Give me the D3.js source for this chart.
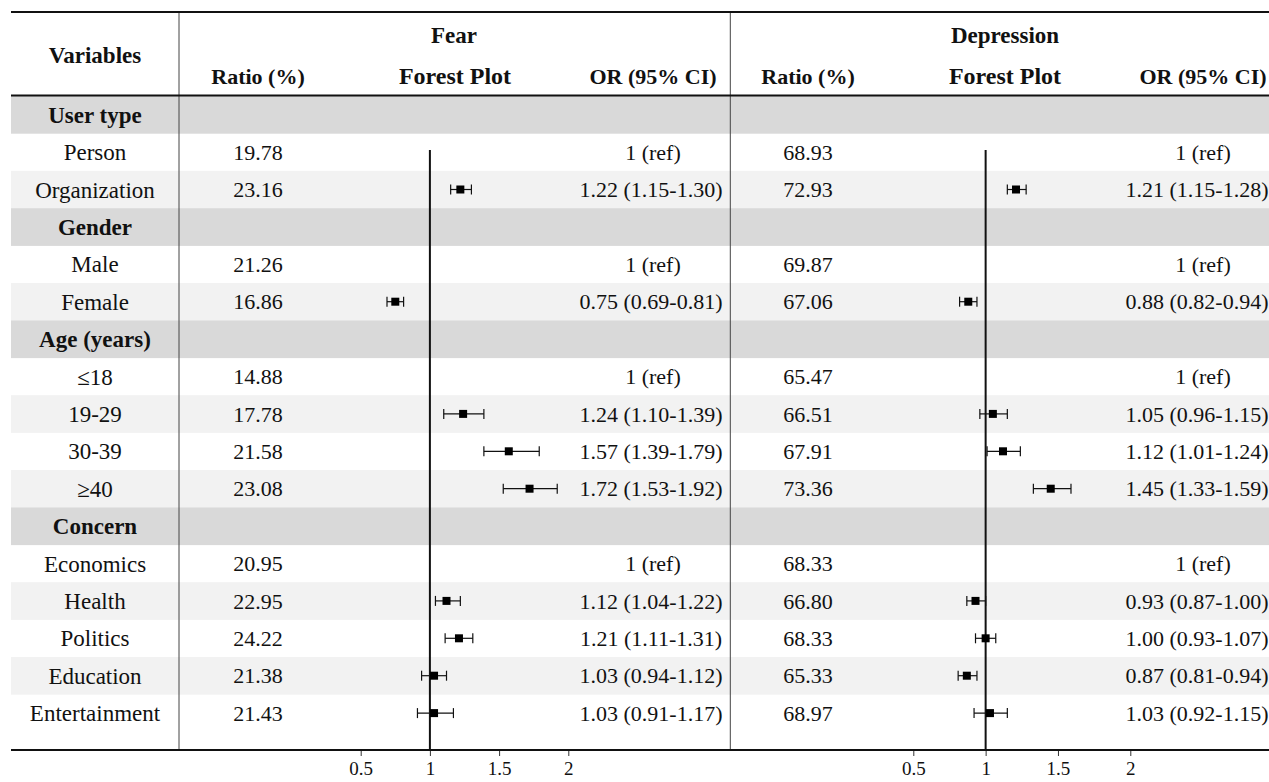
<!DOCTYPE html>
<html><head><meta charset="utf-8">
<script src="https://cdn.jsdelivr.net/npm/d3@7"></script>
<style>body{margin:0;background:#fff}svg{display:block}text{font-family:"Liberation Serif","Times New Roman",serif;fill:#111}</style>
</head><body>
<svg id="c" width="1269" height="782"></svg>
<script>
const variables = ["User type","Person","Organization","Gender","Male","Female","Age (years)","≤18","19-29","30-39","≥40","Concern","Economics","Health","Politics","Education","Entertainment"];
const isGroup = [1,0,0,1,0,0,1,0,0,0,0,1,0,0,0,0,0];
const fearRatio = [null,19.78,23.16,null,21.26,16.86,null,14.88,17.78,21.58,23.08,null,20.95,22.95,24.22,21.38,21.43];
const fearOR   = [null,null,1.22,null,null,0.75,null,null,1.24,1.57,1.72,null,null,1.12,1.21,1.03,1.03];
const fearLow  = [null,null,1.15,null,null,0.69,null,null,1.10,1.39,1.53,null,null,1.04,1.11,0.94,0.91];
const fearHigh = [null,null,1.30,null,null,0.81,null,null,1.39,1.79,1.92,null,null,1.22,1.31,1.12,1.17];
const depRatio = [null,68.93,72.93,null,69.87,67.06,null,65.47,66.51,67.91,73.36,null,68.33,66.80,68.33,65.33,68.97];
const depOR    = [null,null,1.21,null,null,0.88,null,null,1.05,1.12,1.45,null,null,0.93,1.00,0.87,1.03];
const depLow   = [null,null,1.15,null,null,0.82,null,null,0.96,1.01,1.33,null,null,0.87,0.93,0.81,0.92];
const depHigh  = [null,null,1.28,null,null,0.94,null,null,1.15,1.24,1.59,null,null,1.00,1.07,0.94,1.15];
const refRows  = [1,4,7,12];
const axisTicks = [0.5,1,1.5,2];
const fmt = d3.format(".2f");

const svg = d3.select("#c");
const L = 11, R = 1269, topY = 12, headBottom = 95.5, bottomY = 750;
const y = d3.scaleBand().domain(d3.range(variables.length)).range([96, 96 + 37.4*variables.length]);

const panels = [
  {title:"Fear", ratio:fearRatio, or:fearOR, lo:fearLow, hi:fearHigh, cx:{ratio:258, plot:455, or:651, orh:653, title:454},
   x:d3.scaleLinear().domain([0.5,2]).range([360.7,568.3])},
  {title:"Depression", ratio:depRatio, or:depOR, lo:depLow, hi:depHigh, cx:{ratio:808, plot:1005, or:1197, orh:1203, title:1005},
   x:d3.scaleLinear().domain([0.5,2]).range([913.3,1130.3])}
];

// row backgrounds
let stripe = 0;
variables.forEach((v,i)=>{
  let fill = null;
  if (isGroup[i]) { fill = "#d9d9d9"; stripe = 0; }
  else { if (stripe % 2 === 1) fill = "#f2f2f2"; stripe++; }
  if (fill) svg.append("rect").attr("x",L).attr("y",y(i)).attr("width",R-L).attr("height",y.bandwidth()+0.3).attr("fill",fill);
});

// headers
const hdr = svg.append("g").attr("font-size",22).attr("text-anchor","middle").style("font-weight","bold");
hdr.append("text").attr("x",95).attr("y",55).attr("dy","0.35em").attr("font-size",23).text("Variables");
panels.forEach(p=>{
  hdr.append("text").attr("x",p.cx.title).attr("y",35).attr("dy","0.35em").attr("font-size",23).text(p.title);
  hdr.append("text").attr("x",p.cx.ratio).attr("y",76).attr("dy","0.35em").text("Ratio (%)");
  hdr.append("text").attr("x",p.cx.plot).attr("y",76).attr("dy","0.35em").attr("font-size",24).text("Forest Plot");
  hdr.append("text").attr("x",p.cx.orh).attr("y",76).attr("dy","0.35em").text("OR (95% CI)");
});

// variable labels
const body = svg.append("g").attr("font-size",22).attr("text-anchor","middle");
variables.forEach((v,i)=>{
  body.append("text").attr("x",95).attr("y",y(i)+y.bandwidth()/2).attr("dy","0.35em")
    .attr("font-size",23).style("font-weight",isGroup[i]?"bold":"normal").text(v);
});

panels.forEach(p=>{
  variables.forEach((v,i)=>{
    const cy = y(i)+y.bandwidth()/2;
    if (p.ratio[i]!=null) body.append("text").attr("x",p.cx.ratio).attr("y",cy).attr("dy","0.35em").text(fmt(p.ratio[i]));
    if (refRows.includes(i)) body.append("text").attr("x",p.cx.orh).attr("y",cy).attr("dy","0.35em").text("1 (ref)");
    if (p.or[i]!=null) body.append("text").attr("x",p.cx.or).attr("y",cy).attr("dy","0.35em")
      .text(`${fmt(p.or[i])} (${fmt(p.lo[i])}-${fmt(p.hi[i])})`);
  });
  // reference line
  svg.append("line").attr("x1",p.x(1)).attr("x2",p.x(1)).attr("y1",150).attr("y2",bottomY)
    .attr("stroke","#111").attr("stroke-width",2);
  // CIs
  const g = svg.append("g").attr("stroke","#111").attr("stroke-width",1.2);
  variables.forEach((v,i)=>{
    if (p.or[i]==null) return;
    const cy = y(i)+y.bandwidth()/2;
    g.append("line").attr("x1",p.x(p.lo[i])).attr("x2",p.x(p.hi[i])).attr("y1",cy).attr("y2",cy);
    g.append("line").attr("x1",p.x(p.lo[i])).attr("x2",p.x(p.lo[i])).attr("y1",cy-5).attr("y2",cy+5);
    g.append("line").attr("x1",p.x(p.hi[i])).attr("x2",p.x(p.hi[i])).attr("y1",cy-5).attr("y2",cy+5);
    svg.append("rect").attr("x",p.x(p.or[i])-4).attr("y",cy-4).attr("width",8).attr("height",8).attr("fill","#000");
  });
  // axis
  const ax = svg.append("g").attr("transform",`translate(0,${bottomY})`)
    .call(d3.axisBottom(p.x).tickValues(axisTicks).tickFormat(d3.format("")).tickSize(6).tickPadding(6));
  ax.select(".domain").remove();
  ax.selectAll("line").attr("stroke","#333");
  ax.selectAll("text").attr("font-family","Liberation Serif, serif").attr("font-size",19).attr("fill","#111");
});

// vertical separators
[179,730.3].forEach(x=>svg.append("line").attr("x1",x).attr("x2",x).attr("y1",topY).attr("y2",bottomY).attr("stroke","#444").attr("stroke-width",1));
// horizontal rules
[topY,headBottom,bottomY].forEach(yy=>svg.append("line").attr("x1",L).attr("x2",R).attr("y1",yy).attr("y2",yy).attr("stroke","#111").attr("stroke-width",2));
</script>
</body></html>
